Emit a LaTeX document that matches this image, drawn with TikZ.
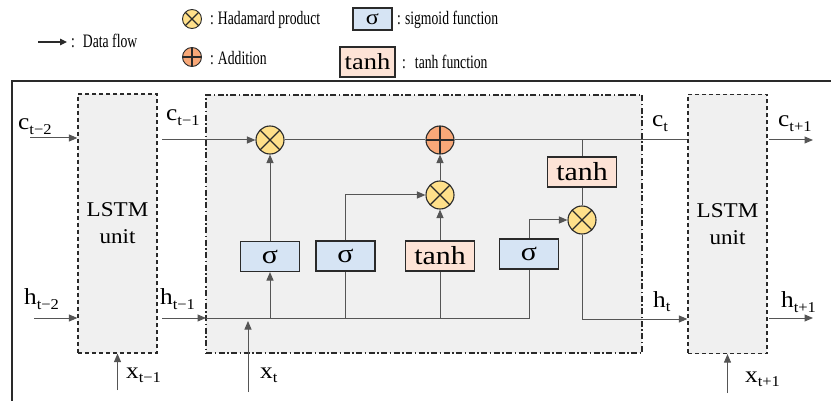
\documentclass[tikz,border=0pt]{standalone}
\usepackage{fontspec}
\setmainfont{Liberation Serif}
\newfontfamily\labfont[FakeStretch=1.1]{Liberation Serif}
\newfontfamily\boxfont[FakeStretch=1.15]{Liberation Serif}
\newfontfamily\legfont[FakeStretch=0.72]{Liberation Serif}
\usetikzlibrary{arrows.meta}
\definecolor{cellgray}{HTML}{F0F0F0}
\definecolor{prodyellow}{HTML}{FFE08A}
\definecolor{addorange}{HTML}{F8A878}
\definecolor{sigblue}{HTML}{D6E4F4}
\definecolor{tanhpeach}{HTML}{FDE3D6}
\definecolor{wire}{HTML}{555555}
\definecolor{edge}{HTML}{2A2A2A}
\newcommand\lsub[1]{\raisebox{-4.5pt}{\fontsize{15}{15}\selectfont #1}}
\tikzset{
  conn/.style={draw=wire, line width=1pt},
  flow/.style={conn, -{Triangle[length=8.5pt,width=7pt]}},
  legflow/.style={draw=edge, line width=1.2pt, -{Triangle[length=7pt,width=6.5pt]}},
  lstmbox/.style={draw=edge, fill=cellgray, line width=1.2pt, dash pattern=on 4pt off 3pt,
    minimum width=79pt, minimum height=259pt, inner sep=0pt, align=center,
    font=\labfont\fontsize{21}{27}\selectfont},
  cellbox/.style={draw=edge, fill=cellgray, line width=1.2pt,
    dash pattern=on 6pt off 2.5pt on 1.5pt off 2.5pt,
    minimum width=436pt, minimum height=258pt, inner sep=0pt},
  sigbox/.style={draw=edge, fill=sigblue, line width=1.1pt, minimum width=59pt,
    minimum height=30pt, inner sep=0pt, font=\boxfont\fontsize{26}{26}\selectfont},
  tanhbox/.style={draw=edge, fill=tanhpeach, line width=1.1pt, minimum width=69pt,
    minimum height=30pt, inner sep=0pt, font=\boxfont\fontsize{26}{26}\selectfont},
  prodnode/.style={circle, draw=edge, fill=prodyellow, line width=1.1pt, inner sep=0pt,
    minimum size=28pt,
    path picture={\draw[edge, line width=1.3pt]
      (path picture bounding box.north west) -- (path picture bounding box.south east)
      (path picture bounding box.north east) -- (path picture bounding box.south west);}},
  addnode/.style={circle, draw=edge, fill=addorange, line width=1.1pt, inner sep=0pt,
    minimum size=28pt,
    path picture={\draw[edge, line width=1.3pt]
      (path picture bounding box.north) -- (path picture bounding box.south)
      (path picture bounding box.west) -- (path picture bounding box.east);}},
  varlabel/.style={inner sep=0pt, anchor=base west, text=black,
    font=\labfont\fontsize{23}{23}\selectfont},
  legtext/.style={inner sep=0pt, anchor=west, font=\legfont\fontsize{19}{20}\selectfont},
}
\begin{document}
\begin{tikzpicture}[x=1pt, y=-1pt]
\useasboundingbox (0,0) rectangle (831,401);

% outer frame (open to the right and bottom)
\draw[edge, line width=1.5pt] (12,401) -- (12,81) -- (831,81);

% ---------- legend ----------
\coordinate (lgA) at (38,42);
\coordinate (lgB) at (67,42);
\draw[legflow] (lgA) -- (lgB);
\node[legtext] (lgflow) at (71,41) {:\hspace{8pt}Data flow};

\node[prodnode, minimum size=19pt, line width=0.9pt] (lgprod) at (192,19) {};
\node[legtext] (lgprodt) at (210,20) {:\hspace{4pt}Hadamard product};
\node[addnode, minimum size=19pt, line width=0.9pt] (lgadd) at (192,57) {};
\node[legtext] (lgaddt) at (210,58) {:\hspace{4pt}Addition};

\node[sigbox, minimum width=39pt, minimum height=22pt, font=\boxfont\fontsize{21}{21}\selectfont]
  (lgsig) at (372.5,19) {σ};
\node[legtext] (lgsigt) at (397,20) {:\hspace{4pt}sigmoid function};
\node[tanhbox, minimum width=55pt, minimum height=30pt, font=\boxfont\fontsize{23}{23}\selectfont]
  (lgtanh) at (367.5,62) {tanh};
\node[legtext] (lgtanht) at (402,62) {:\hspace{9pt}tanh function};

% ---------- cells ----------
\node[lstmbox] (llstm) at (117.5,223.5) {LSTM\\unit};
\node[cellbox] (cell) at (424,224) {};
\node[lstmbox] (rlstm) at (727.5,224) {LSTM\\unit};

% gates
\node[sigbox] (s1) at (270,256.5) {σ};
\node[sigbox] (s2) at (345.5,256) {σ};
\node[tanhbox] (t1) at (440,256) {tanh};
\node[sigbox] (s3) at (529,254) {σ};
\node[tanhbox] (t2) at (582,172) {tanh};

% pointwise operations
\node[prodnode] (f1) at (270,140) {};
\node[addnode] (add) at (440,140) {};
\node[prodnode] (m2) at (440,195) {};
\node[prodnode] (m3) at (582,220) {};

% ---------- free ends ----------
\coordinate (cprevA) at (30,138);
\coordinate (hprevA) at (34,318);
\coordinate (xprevA) at (117.5,390);
\coordinate (cin) at (162,140);
\coordinate (hin) at (162,318);
\coordinate (hjoin) at (206,318);
\coordinate (xtA) at (248,392);
\coordinate (xtB) at (248,321);
\coordinate (hout) at (582,319);
\coordinate (cnextA) at (769,140);
\coordinate (cnextB) at (813,140);
\coordinate (hnextA) at (769,318);
\coordinate (hnextB) at (813,318);
\coordinate (xnextA) at (727.5,393);

% ---------- connectors ----------
% left unit inputs
\draw[flow] (cprevA) -- (cprevA -| llstm.west);
\draw[flow] (hprevA) -- (hprevA -| llstm.west);
\draw[flow] (xprevA) -- (llstm.south);

% cell state path
\draw[flow] (cin) -- (f1);
\draw[conn] (f1) -- (add);
\draw[conn] (add) -- (add -| rlstm.west);

% hidden state / input bus
\draw[flow] (hin) -- (hjoin);
\draw[conn] (hjoin) -| (s3.south);
\draw[flow] (xtA) -- (xtB);
\draw[flow] (s1.south |- hjoin) -- (s1.south);
\draw[conn] (s2.south |- hjoin) -- (s2.south);
\draw[conn] (t1.south |- hjoin) -- (t1.south);

% gates to operations
\draw[flow] (s1) -- (f1);
\draw[flow] (s2.north) |- (m2.west);
\draw[flow] (t1) -- (m2);
\draw[flow] (m2) -- (add);

% output gate
\draw[conn] (t2.north |- add) -- (t2.north);
\draw[conn] (t2) -- (m3);
\draw[flow] (s3.north) |- (m3.west);
\draw[conn] (m3.south) -- (hout);
\draw[flow] (hout) -- (hout -| rlstm.west);

% right unit
\draw[flow] (cnextA) -- (cnextB);
\draw[flow] (hnextA) -- (hnextB);
\draw[flow] (xnextA) -- (rlstm.south);

% ---------- variable labels ----------
\node[varlabel] (lcm2) at (18,130) {c\lsub{t−2}};
\node[varlabel] (lhm2) at (24,305) {h\lsub{t−2}};
\node[varlabel] (lxm1) at (126,378) {x\lsub{t−1}};
\node[varlabel] (lcm1) at (166,121) {c\lsub{t−1}};
\node[varlabel] (lhm1) at (160,305) {h\lsub{t−1}};
\node[varlabel] (lxt) at (260,378) {x\lsub{t}};
\node[varlabel] (lct) at (652,127) {c\lsub{t}};
\node[varlabel] (lht) at (653,307) {h\lsub{t}};
\node[varlabel] (lcp1) at (778,127) {c\lsub{t+1}};
\node[varlabel] (lhp1) at (781,308) {h\lsub{t+1}};
\node[varlabel] (lxp1) at (745,382) {x\lsub{t+1}};
\end{tikzpicture}
\end{document}
